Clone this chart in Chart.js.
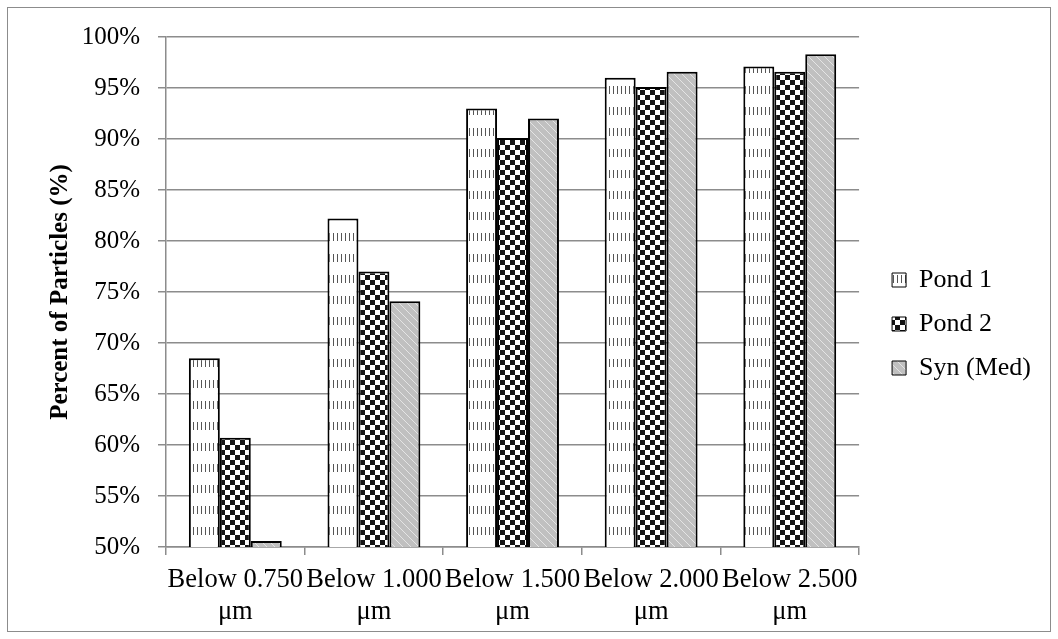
<!DOCTYPE html>
<html>
<head>
<meta charset="utf-8">
<script src="https://cdn.jsdelivr.net/npm/chart.js@4"></script>
<style>
  html, body { margin: 0; padding: 0; background: #fff; }
  #frame { position: absolute; left: 7px; top: 7px; width: 1042px; height: 623px; border: 1.5px solid #8c8c8c; }
  #wrap { position: absolute; left: 0; top: 0; width: 1058px; height: 639px; }
</style>
</head>
<body>
<div id="frame"></div>
<div id="wrap"><canvas id="chart" width="1058" height="639"></canvas></div>
<script>
// ===== DATA =====
const CATEGORIES = [
  ['Below 0.750', 'μm'],
  ['Below 1.000', 'μm'],
  ['Below 1.500', 'μm'],
  ['Below 2.000', 'μm'],
  ['Below 2.500', 'μm']
];
const SERIES_NAMES = ['Pond 1', 'Pond 2', 'Syn (Med)'];
const POND1 = [68.5, 82.2, 93.0, 96.0, 97.1];
const POND2 = [60.7, 77.0, 90.1, 95.1, 96.6];
const SYN_MED = [50.6, 74.1, 92.0, 96.6, 98.3];
const Y_MIN = 50, Y_MAX = 100, Y_STEP = 5;
const Y_TITLE = 'Percent of Particles (%)';

// ===== STYLE =====
const FONT = "'Liberation Serif', 'Times New Roman', serif";
const GRID = '#8c8c8c';

Chart.defaults.color = '#000';
Chart.defaults.font.family = FONT;
Chart.defaults.font.size = 25;

function makePattern(w, h, draw) {
  const c = document.createElement('canvas');
  c.width = w; c.height = h;
  const ctx = c.getContext('2d');
  draw(ctx, w, h);
  return ctx.createPattern(c, 'repeat');
}

// white with short vertical dashes
const dashPattern = makePattern(4, 21, (ctx, w, h) => {
  ctx.fillStyle = '#fff'; ctx.fillRect(0, 0, w, h);
  ctx.fillStyle = 'rgba(30,30,30,0.75)'; ctx.fillRect(1, 2, 1, 8);
});
// black / white checkerboard
const checkPattern = makePattern(10, 10, (ctx, w, h) => {
  ctx.fillStyle = '#fff'; ctx.fillRect(0, 0, w, h);
  ctx.fillStyle = '#141414';
  ctx.fillRect(0, 0, 5, 5); ctx.fillRect(5, 5, 5, 5);
});
// grey with light downward diagonals
const diagPattern = makePattern(8, 8, (ctx, w, h) => {
  ctx.fillStyle = '#c0c0c0'; ctx.fillRect(0, 0, w, h);
  ctx.strokeStyle = '#e4e4e4'; ctx.lineWidth = 1;
  ctx.beginPath(); ctx.moveTo(-1, -1); ctx.lineTo(w + 1, h + 1); ctx.stroke();
});

// nudge legend to where it sits in the original
const legendShift = {
  id: 'legendShift',
  afterLayout(chart) {
    const l = chart.legend;
    l.left += 15; l.right += 15;
    l.top -= 14; l.bottom -= 14;
  }
};

const barStyle = { borderColor: '#000', borderWidth: 2, borderSkipped: false };

new Chart(document.getElementById('chart'), {
  type: 'bar',
  data: {
    labels: CATEGORIES,
    datasets: [
      { label: SERIES_NAMES[0], data: POND1, backgroundColor: dashPattern, ...barStyle },
      { label: SERIES_NAMES[1], data: POND2, backgroundColor: checkPattern, ...barStyle },
      { label: SERIES_NAMES[2], data: SYN_MED, backgroundColor: diagPattern, ...barStyle }
    ]
  },
  options: {
    responsive: false,
    animation: false,
    layout: { padding: { left: 0, top: 37, right: 32, bottom: 0 } },
    datasets: { bar: { categoryPercentage: 0.67, barPercentage: 1 } },
    plugins: {
      tooltip: { enabled: false },
      legend: {
        position: 'right',
        labels: {
          boxWidth: 14, boxHeight: 14, padding: 18,
          font: { size: 26, family: FONT },
          generateLabels(chart) {
            return Chart.defaults.plugins.legend.labels.generateLabels(chart)
              .map(l => ({ ...l, lineWidth: 1 }));
          }
        }
      }
    },
    scales: {
      x: {
        afterFit(s) { s.height = 92; },
        grid: { display: true, drawOnChartArea: false, color: GRID, lineWidth: 1.5, tickLength: 8 },
        border: { color: GRID, width: 1.5 },
        ticks: { maxRotation: 0, autoSkip: false, padding: 9, font: { size: 26.5, family: FONT, lineHeight: 1.22 } }
      },
      y: {
        min: Y_MIN, max: Y_MAX,
        afterFit(s) { s.width = 166; },
        grid: { color: GRID, lineWidth: 1.5, tickLength: 8 },
        border: { color: GRID, width: 1.5 },
        ticks: { stepSize: Y_STEP, padding: 18, callback: v => v + '%', font: { size: 25, family: FONT } },
        title: {
          display: true, text: Y_TITLE,
          font: { size: 25, weight: 'bold', family: FONT },
          padding: { top: 46, bottom: 0 }
        }
      }
    }
  },
  plugins: [legendShift]
});
</script>
</body>
</html>
